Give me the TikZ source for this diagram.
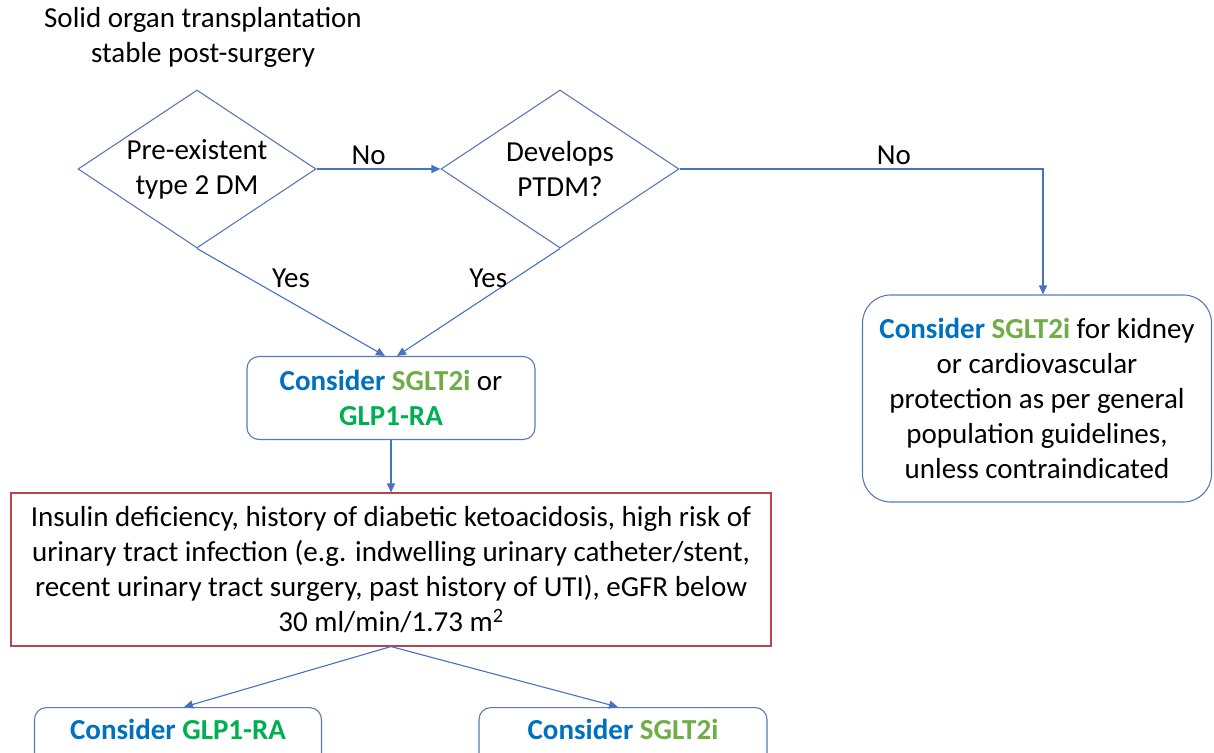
\documentclass[tikz,border=0pt]{standalone}
\usepackage{fontspec}
\setmainfont{Carlito}
\usetikzlibrary{shapes.geometric,arrows.meta}
\definecolor{lineblue}{HTML}{4472C4}
\definecolor{boxblue}{HTML}{5A78B4}
\definecolor{boxred}{HTML}{B8454B}
\definecolor{consblue}{HTML}{0070C0}
\definecolor{sgltgreen}{HTML}{70AD47}
\definecolor{glpgreen}{HTML}{00B050}
\newcommand{\consider}{\textbf{\textcolor{consblue}{Consider}}}
\newcommand{\sglt}{\textbf{\textcolor{sgltgreen}{SGLT2i}}}
\newcommand{\glp}{\textbf{\textcolor{glpgreen}{GLP1-RA}}}
\begin{document}
\begin{tikzpicture}[x=1pt,y=-1pt,font=\fontsize{29}{35}\selectfont]
      \tikzstyle{decision} = [diamond,draw=boxblue,line width=1.1pt,inner sep=0pt,minimum width=238pt,minimum height=158pt];
      \tikzstyle{choice} = [draw=boxblue,line width=1.1pt,rounded corners=12pt,align=center,inner sep=4pt];
      \tikzstyle{arrow} = [draw=lineblue,line width=1.1pt,-{Triangle[length=9pt,width=8pt]}];
      \clip (0,0) rectangle (1214,752);
      \node[align=center] (start) at (203,37) {Solid organ transplantation\\stable post-surgery};
      \node[decision] (pre) at (197,169) {};
      \node[align=center] (pretxt) at (pre) {Pre-existent\\type 2 DM};
      \node[decision] (dev) at (560,169) {};
      \node[align=center] (devtxt) at (dev) {Develops\\PTDM?};
      \node[choice,minimum width=288pt,minimum height=83pt] (mid) at (391,398) {\consider{} \sglt{} or\\\glp};
      \node[choice,rounded corners=28pt,minimum width=349pt,minimum height=207pt] (gen) at (1037,398.5) {\consider{} \sglt{} for kidney\\or cardiovascular\\protection as per general\\population guidelines,\\unless contraindicated};
      \node[draw=boxred,line width=1.1pt,align=center,minimum width=760pt,minimum height=153pt] (crit) at (391,569.5) {Insulin deficiency, history of diabetic ketoacidosis, high risk of\\urinary tract infection (e.g. indwelling urinary catheter/stent,\\recent urinary tract surgery, past history of UTI), eGFR below\\30 ml/min/1.73 m\textsuperscript{2}};
      \node[choice,anchor=north,minimum width=287pt,text height=28pt,text depth=46pt] (lbox) at (178,707) {\consider{} \glp};
      \node[choice,anchor=north,minimum width=288pt,text height=28pt,text depth=46pt] (rbox) at (623,707) {\consider{} \sglt};
      \draw[arrow] (pre.east) -- node[above,pos=0.42] (no1) {No} (dev.west);
      \draw[arrow] (dev.east) -| node[above,pos=0.295] (no2) {No} ([xshift=6pt]gen.north);
      \draw[arrow] (pre.south) -- node[above=11pt,pos=0.5] (yes1) {Yes} ([xshift=-6pt]mid.north);
      \draw[arrow] (dev.south) -- node[above=4pt,pos=0.44] (yes2) {Yes} ([xshift=6pt]mid.north);
      \draw[arrow] (mid) -- (crit);
      \draw[arrow] (crit.south) -- ([xshift=6pt]lbox.north);
      \draw[arrow] (crit.south) -- ([xshift=-5pt]rbox.north);
    \end{tikzpicture}
\end{document}
